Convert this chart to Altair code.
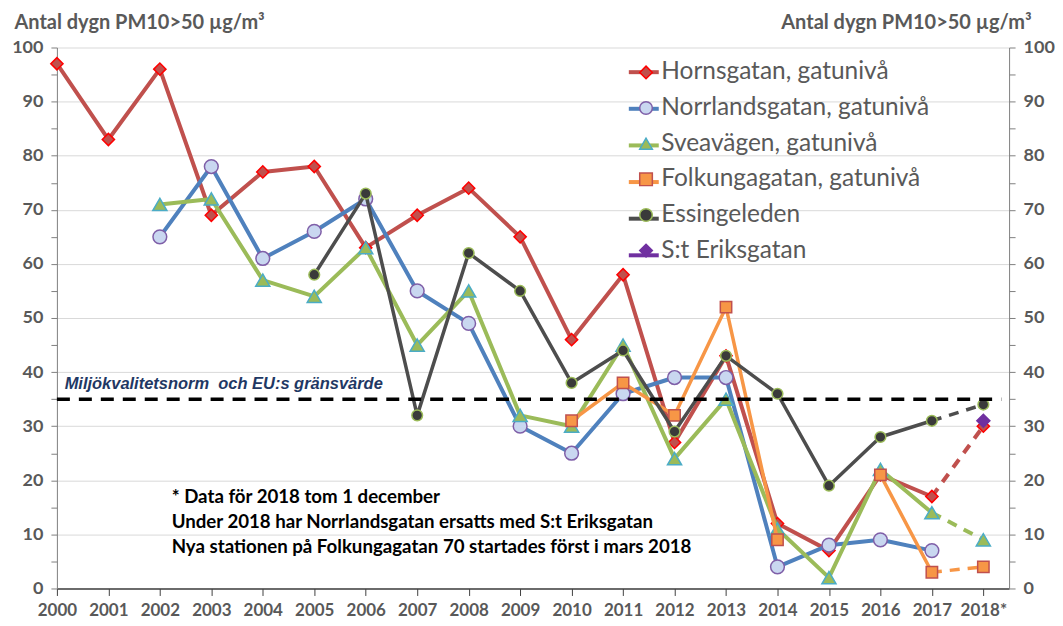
import altair as alt
import pandas as pd

# ---------------- data ----------------
series_names = ["Hornsgatan, gatunivå", "Norrlandsgatan, gatunivå", "Sveavägen, gatunivå",
                "Folkungagatan, gatunivå", "Essingeleden", "S:t Eriksgatan"]

horns_years = list(range(2000, 2019))
horns_vals = [97, 83, 96, 69, 77, 78, 63, 69, 74, 65, 46, 58, 27, 43, 12, 7, 21, 17, 30]

norr_years = list(range(2002, 2018))
norr_vals = [65, 78, 61, 66, 72, 55, 49, 30, 25, 36, 39, 39, 4, 8, 9, 7]

svea_years = list(range(2002, 2019))
svea_vals = [71, 72, 57, 54, 63, 45, 55, 32, 30, 45, 24, 35, 11, 2, 22, 14, 9]

folk_years = [2010, 2011, 2012, 2013, 2014, 2016, 2017, 2018]
folk_vals = [31, 38, 32, 52, 9, 21, 3, 4]
folk_segments = ["a", "a", "a", "a", "a", "b", "b", "b"]

essi_years = list(range(2005, 2019))
essi_vals = [58, 73, 32, 62, 55, 38, 44, 29, 43, 36, 19, 28, 31, 34]

ster_years = [2018]
ster_vals = [31]

limit_value = 35
limit_label = "Miljökvalitetsnorm\u00a0\u00a0och EU:s gränsvärde"
note_lines = ["* Data för 2018 tom 1 december",
              "Under 2018 har Norrlandsgatan ersatts med S:t Eriksgatan",
              "Nya stationen på Folkungagatan 70 startades först i mars 2018"]
note_y = [17.0, 12.3, 7.6]
tick_years = list(range(2000, 2019))

line_colors = ["#C0504D", "#4F81BD", "#9BBB59", "#F79646", "#4D4D4D", "#7030A0"]
fill_colors = ["#C0504D", "#C9D7F0", "#9BBB59", "#F79646", "#3A3A3A", "#7030A0"]
stroke_colors = ["#FF0000", "#7F5FA8", "#4BACC6", "#C0504D", "#9BBB59", "#7030A0"]
shapes = ["diamond", "circle", "triangle-up", "square", "circle", "diamond"]
sizes = [150, 190, 200, 130, 115, 170]
line_widths = [4, 4, 4, 3.5, 3.5, 4]

# ---------------- build table ----------------
rows = []
def add(name, ys, vs, segs=None):
    for i, (y, v) in enumerate(zip(ys, vs)):
        rows.append({"series": name, "year": y, "value": v,
                     "seg": name + (segs[i] if segs else "a")})

add(series_names[0], horns_years, horns_vals)
add(series_names[1], norr_years, norr_vals)
add(series_names[2], svea_years, svea_vals)
add(series_names[3], folk_years, folk_vals, folk_segments)
add(series_names[4], essi_years, essi_vals)
add(series_names[5], ster_years, ster_vals)
df = pd.DataFrame(rows)
line_keys = ["L%d" % i for i in range(len(series_names))]
df["lkey"] = df["series"].map(dict(zip(series_names, line_keys)))

solid = df[df["year"] <= 2017]
dashed_series = [s for s in series_names
                 if ((df["series"] == s) & (df["year"] == 2018)).any()
                 and ((df["series"] == s) & (df["year"] == 2017)).any()]
dashed = df[df["series"].isin(dashed_series) & df["year"].isin([2017, 2018])]

FONT = "Lato"
GRAY = "#595959"

xscale = alt.Scale(domain=[2000, 2018.5], nice=False, zero=False)
yscale = alt.Scale(domain=[0, 100], nice=False)

x_axis = alt.Axis(values=tick_years, labelExpr="datum.value == 2018 ? '2018*' : '' + datum.value",
                  title=None, grid=False, labelFont=FONT, labelFontSize=17, labelFontWeight="bold",
                  labelColor=GRAY, tickColor="#404040", domainColor="#404040", tickSize=7,
                  labelPadding=7, domainWidth=1.5, labelOverlap=False, labelFlush=False)

y_values = list(range(0, 101, 5))
grid_op = {"condition": {"test": "datum.value % 10 == 0", "value": 1}, "value": 0}

y_axis_left = alt.Axis(values=y_values, labelExpr="datum.value % 10 == 0 ? datum.label : ''",
                       title="Antal dygn PM10>50 µg/m³", titleAngle=0, titleAlign="left",
                       titleBaseline="alphabetic", titleX=-43, titleY=-19, titleFont=FONT,
                       titleFontSize=20, titleFontWeight="bold", titleColor=GRAY,
                       labelFont=FONT, labelFontSize=18, labelFontWeight="bold", labelColor=GRAY,
                       tickColor="#7F7F7F", domainColor="#7F7F7F", tickSize=6, labelPadding=8,
                       gridColor="#D9D9D9", gridOpacity=grid_op, labelOverlap=False)

y_axis_right = alt.Axis(values=y_values, labelExpr="datum.value % 10 == 0 ? datum.label : ''",
                        orient="right", grid=False,
                        title="Antal dygn PM10>50 µg/m³", titleAngle=0, titleAlign="right",
                        titleBaseline="alphabetic", titleX=22, titleY=-19, titleFont=FONT,
                        titleFontSize=20, titleFontWeight="bold", titleColor=GRAY,
                        labelFont=FONT, labelFontSize=18, labelFontWeight="bold", labelColor=GRAY,
                        tickColor="#7F7F7F", domainColor="#7F7F7F", tickSize=6, labelPadding=8,
                        labelOverlap=False)

LEG_FS = 24.5

marker_legend = alt.Legend(title=None, orient="none", legendX=578, legendY=12.7,
                           labelFont=FONT, labelFontSize=LEG_FS, labelColor=GRAY,
                           rowPadding=10.7, labelOffset=3, symbolStrokeWidth=1.5,
                           labelLimit=400, symbolSize=160, symbolOpacity=1)

line_legend = alt.Legend(title=None, orient="none", legendX=571, legendY=7.7,
                         labelFont=FONT, labelFontSize=LEG_FS, labelExpr="''",
                         rowPadding=7.7, labelOffset=3, symbolType="stroke",
                         symbolStrokeWidth=4, symbolSize=900, symbolOpacity=1)

fill_scale = alt.Scale(domain=series_names, range=fill_colors)
stroke_scale = alt.Scale(domain=series_names, range=stroke_colors)
shape_scale = alt.Scale(domain=series_names, range=shapes)
line_scale = alt.Scale(domain=line_keys, range=line_colors)

X = alt.X("year:Q", scale=xscale, axis=x_axis)
Y = alt.Y("value:Q", scale=yscale, axis=y_axis_left)

# legend-bearing layers (invisible marks; only their legends are shown)
layers = [
    alt.Chart(df).mark_line(opacity=0).encode(
        x=X, y=Y, color=alt.Color("lkey:N", scale=line_scale, legend=line_legend)),
    alt.Chart(df).mark_point(filled=True, opacity=0, strokeWidth=1.5).encode(
        x=X, y=Y,
        fill=alt.Fill("series:N", scale=fill_scale, legend=marker_legend),
        stroke=alt.Stroke("series:N", scale=stroke_scale, legend=marker_legend),
        shape=alt.Shape("series:N", scale=shape_scale, legend=marker_legend)),
]

for i, s in enumerate(series_names):
    sd = solid[solid["series"] == s]
    if len(sd) > 1:
        layers.append(alt.Chart(sd).mark_line(strokeWidth=line_widths[i], strokeCap="round",
                                              strokeJoin="round", color=line_colors[i]).encode(
            x=X, y=Y, detail="seg:N"))
    dd = dashed[dashed["series"] == s]
    if len(dd) > 1:
        layers.append(alt.Chart(dd).mark_line(strokeWidth=line_widths[i], strokeDash=[10, 8],
                                              color=line_colors[i]).encode(x=X, y=Y))
    pdf = df[df["series"] == s]
    layers.append(alt.Chart(pdf).mark_point(filled=True, opacity=1, strokeWidth=1.5,
                                            fill=fill_colors[i], stroke=stroke_colors[i],
                                            shape=shapes[i], size=sizes[i]).encode(x=X, y=Y))

notes_df = pd.DataFrame({"text": note_lines, "y": note_y, "x": [2002.23] * 3})
layers.append(alt.Chart(notes_df).mark_text(align="left", baseline="middle", font=FONT,
                                            fontSize=18.7, fontWeight="bold", color="#000000").encode(
    x=alt.X("x:Q", scale=xscale, axis=x_axis),
    y=alt.Y("y:Q", scale=yscale, axis=y_axis_left),
    text="text:N"))

lab_df = pd.DataFrame({"text": [limit_label], "x": [2000.15], "y": [37.8]})
layers.append(alt.Chart(lab_df).mark_text(align="left", baseline="middle", font="Liberation Sans",
                                          fontSize=16.5, fontWeight="bold", fontStyle="italic",
                                          color="#1F3864").encode(
    x=alt.X("x:Q", scale=xscale, axis=x_axis),
    y=alt.Y("y:Q", scale=yscale, axis=y_axis_left),
    text="text:N"))

main = alt.layer(*layers)

limit_df = pd.DataFrame({"x": [2000.0], "x2": [2018.35], "y": [limit_value]})
limit = alt.Chart(limit_df).mark_rule(color="#000000", strokeWidth=3.5, strokeDash=[13, 9]).encode(
    x=alt.X("x:Q", scale=xscale, axis=x_axis),
    x2="x2:Q",
    y=alt.Y("y:Q", scale=yscale, axis=y_axis_right))

chart = alt.layer(main, limit).resolve_scale(y="independent").properties(
    width=954, height=542,
    autosize=alt.AutoSizeParams(type="none"),
    padding={"left": 49, "top": 39, "right": 46, "bottom": 36},
    background="white"
).configure_view(stroke=None)

chart.save("out.html", embed_options={"renderer": "svg", "actions": False})
